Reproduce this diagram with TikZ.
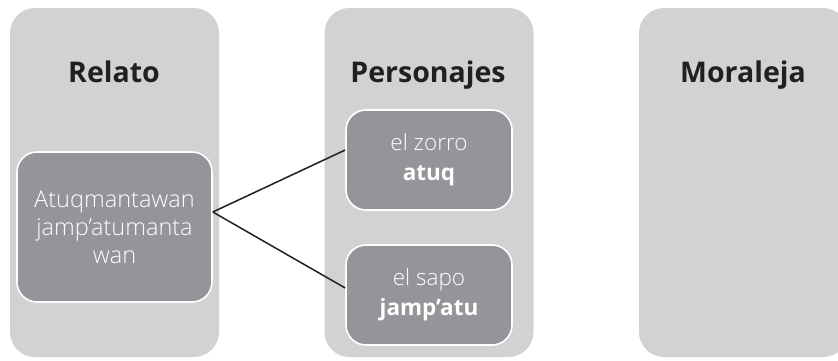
\documentclass[tikz,border=0pt]{standalone}
\usepackage{fontspec}
\setmainfont{Open Sans}
\newfontfamily\lightfont{Open Sans Light}
\newfontfamily\semifont{Open Sans Semibold}
\definecolor{panelgray}{HTML}{D1D2D4}
\definecolor{boxgray}{HTML}{939598}
\definecolor{ink}{HTML}{231F20}
\begin{document}
\begin{tikzpicture}[x=1pt,y=-1pt,
  panel/.style={fill=panelgray,draw=none,rounded corners=25pt,minimum width=209pt,minimum height=349pt,inner sep=0pt},
  title/.style={text=ink,font=\bfseries\fontsize{28.5}{32}\selectfont,inner sep=0pt,anchor=base},
  innerbox/.style={fill=boxgray,draw=white,line width=1.6pt,rounded corners=20pt,inner sep=0pt,text=white,align=center},
  conn/.style={draw=ink,line width=1.5pt}]
\useasboundingbox (0,0) rectangle (838,360);
\clip (0,0) rectangle (838,360);
\node[panel] (p1) at (114.5,182.5) {};
\node[panel] (p2) at (429,182.5) {};
\node[panel] (p3) at (743.5,182.5) {};
\node[title] (t1) at (114,82) {Relato};
\node[title] (t2) at (428,82) {Personajes};
\node[title] (t3) at (743,82) {Moraleja};
\node[innerbox,minimum width=195pt,minimum height=150pt,font=\lightfont\fontsize{23.5}{28}\selectfont] (b1) at (114.5,227) {Atuqmantawan\\jamp’atumanta\\wan};
\node[innerbox,minimum width=166pt,minimum height=100pt,font=\lightfont\fontsize{22.5}{30}\selectfont] (b2) at (429,160) {el zorro\\{\normalfont\bfseries\fontsize{22.5}{30}\selectfont atuq}};
\node[innerbox,minimum width=166pt,minimum height=100pt,font=\lightfont\fontsize{22.5}{30}\selectfont] (b3) at (429,295) {el sapo\\{\normalfont\bfseries\fontsize{22.5}{30}\selectfont jamp’atu}};
\draw[conn] ([yshift=15pt]b1.east) -- ([yshift=10pt]b2.west);
\draw[conn] ([yshift=15pt]b1.east) -- ([yshift=7pt]b3.west);
\end{tikzpicture}
\end{document}
